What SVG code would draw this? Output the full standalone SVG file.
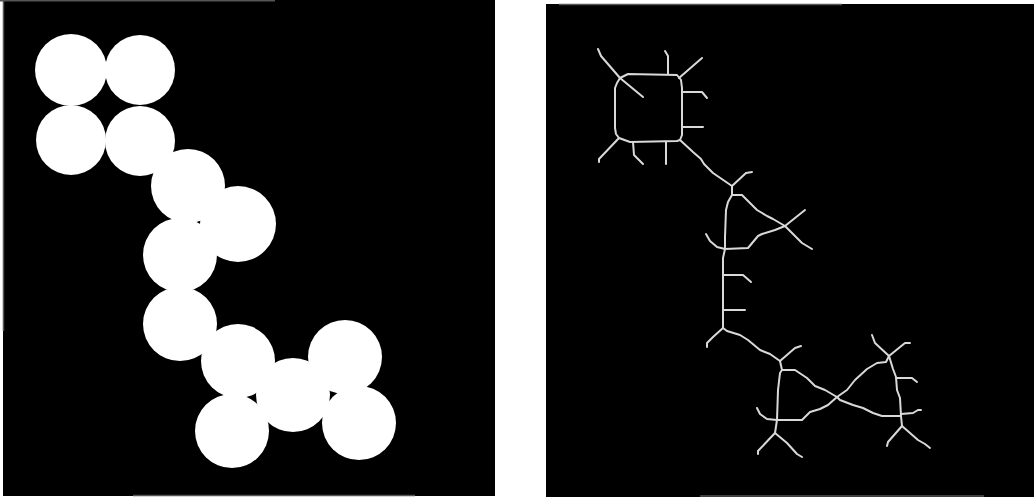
<svg xmlns="http://www.w3.org/2000/svg" width="1034" height="498" viewBox="0 0 1034 498">
  <style>
    .bg { fill: #000000; }
    .blob { fill: #ffffff; }
    .edge { stroke: #555555; stroke-width: 1.5; fill: none; }
    .sk { stroke: #d9d9d9; stroke-width: 2; fill: none; stroke-linejoin: round; stroke-linecap: round; }
  </style>
  <rect width="1034" height="498" fill="#ffffff"/>

  <g id="binary-image">
    <rect class="bg" x="3" y="0" width="492" height="496"/>
    <line class="edge" x1="3.5" y1="0" x2="3.5" y2="331"/>
    <line class="edge" x1="0" y1="0.8" x2="275" y2="0.8"/>
    <line class="edge" x1="133" y1="495.5" x2="415" y2="495.5" stroke="#bbbbbb"/>
    <circle class="blob" cx="71" cy="70" r="36"/>
    <circle class="blob" cx="140" cy="70" r="35"/>
    <circle class="blob" cx="71" cy="140" r="35"/>
    <circle class="blob" cx="140" cy="141" r="35"/>
    <circle class="blob" cx="188" cy="186" r="37"/>
    <circle class="blob" cx="238" cy="224" r="38"/>
    <circle class="blob" cx="180" cy="255" r="37"/>
    <circle class="blob" cx="180" cy="324" r="37"/>
    <circle class="blob" cx="238" cy="361" r="37"/>
    <circle class="blob" cx="345" cy="357" r="37"/>
    <circle class="blob" cx="293" cy="395" r="37"/>
    <circle class="blob" cx="232" cy="431" r="37"/>
    <circle class="blob" cx="359" cy="423" r="37"/>
  </g>

  <g id="skeleton-image">
    <rect class="bg" x="546" y="4" width="488" height="493"/>
    <line class="edge" x1="559" y1="4.5" x2="842" y2="4.5"/>
    <line class="edge" x1="700" y1="496" x2="984" y2="496"/>
  </g>

  <g id="connectors">
    <!-- square loop -->
    <path class="sk" d="M620,78 L628,74 L677,75 L681,80 L682,88 L682,135 L680,140 L677,141 L630,142 L619,138 L616,134 L615,128 L615,88 L617,83 Z"/>
    <path class="sk" d="M620,78 L601,56 L598,49"/>
    <path class="sk" d="M620,78 L643,97"/>
    <path class="sk" d="M668,74 L668,56 L665,51"/>
    <path class="sk" d="M679,78 L702,58"/>
    <path class="sk" d="M683,92 L702,92 L707,98"/>
    <path class="sk" d="M683,127 L703,127"/>
    <path class="sk" d="M619,138 L599,159 L599,162"/>
    <path class="sk" d="M633,142 L634,155 L643,164"/>
    <path class="sk" d="M666,142 L666,164"/>
    <!-- link down to first triangle -->
    <path class="sk" d="M680,140 L693,152 L701,159 L704,164 L713,173 L732,186"/>
    <path class="sk" d="M732,186 L746,173 L752,172"/>
    <!-- upper triangle -->
    <path class="sk" d="M732,186 L732,195 L742,195 L757,210 L767,216 L773,219 L785,226 L775,230 L762,234 L758,236 L748,248 L725,249 L725,237 L726,210 L728,202 L732,195"/>
    <path class="sk" d="M785,226 L805,210"/>
    <path class="sk" d="M785,226 L802,243 L812,249"/>
    <path class="sk" d="M725,249 L717,247 L710,241 L706,234"/>
    <!-- vertical spine -->
    <path class="sk" d="M725,249 L723,258 L723,328"/>
    <path class="sk" d="M723,275 L743,275 L751,282"/>
    <path class="sk" d="M723,310 L745,310"/>
    <path class="sk" d="M723,328 L713,337 L707,343 L707,347"/>
    <!-- link to lower left triangle -->
    <path class="sk" d="M723,328 L727,331 L740,335 L748,340 L760,350 L770,354 L780,361"/>
    <path class="sk" d="M780,361 L795,348 L801,346"/>
    <!-- lower left triangle -->
    <path class="sk" d="M780,361 L782,370 L795,370 L807,378 L815,386 L825,390 L837,397 L828,405 L820,409 L810,412 L802,420 L777,420 L778,390 L780,373 L782,370"/>
    <path class="sk" d="M777,420 L767,419 L760,414 L757,408"/>
    <path class="sk" d="M777,420 L775,433"/>
    <path class="sk" d="M775,433 L758,451 L758,454"/>
    <path class="sk" d="M775,433 L787,443 L797,454 L802,457"/>
    <!-- lower right triangle -->
    <path class="sk" d="M837,397 L847,390 L855,380 L867,369 L877,363 L886,362 L889,356"/>
    <path class="sk" d="M889,356 L893,369 L896,377 L897,390 L900,398 L901,416"/>
    <path class="sk" d="M837,397 L840,400 L853,405 L863,408 L873,413 L882,416 L901,416"/>
    <path class="sk" d="M889,356 L875,343 L872,335"/>
    <path class="sk" d="M889,356 L905,343 L910,343"/>
    <path class="sk" d="M896,378 L912,378 L917,382"/>
    <path class="sk" d="M901,414 L913,413 L918,410 L921,410"/>
    <path class="sk" d="M901,416 L902,426"/>
    <path class="sk" d="M902,426 L888,442 L887,446"/>
    <path class="sk" d="M902,426 L918,440 L925,444 L930,448"/>
  </g>
</svg>
